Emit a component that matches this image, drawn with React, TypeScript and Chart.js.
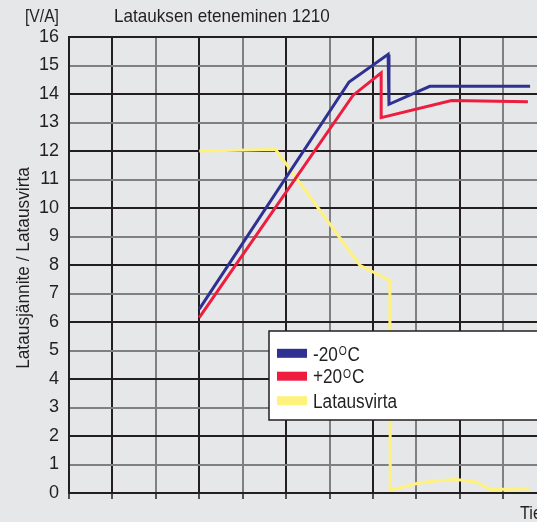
import React, { useEffect, useRef } from 'react';
import { Chart, registerables } from 'chart.js';

Chart.register(...registerables);

// ---- data ----
const seriesLabels = ['-20°C', '+20°C', 'Latausvirta'];
const seriesColors = ['#2e3192', '#ee1d40', '#fff27c'];

const coldX = [3, 6.45, 7.35, 7.37, 8.31, 10.62];
const coldY = [6.45, 14.42, 15.39, 13.64, 14.27, 14.27];

const warmX = [3, 6.54, 7.19, 7.19, 8.81, 10.57];
const warmY = [6.15, 13.95, 14.74, 13.17, 13.77, 13.73];

const currentX = [3, 4.76, 6.7, 7.39, 7.4, 8.01, 8.45, 8.93, 9.39, 9.7, 10.62];
const currentY = [12.0, 12.05, 7.99, 7.46, 0.1, 0.33, 0.43, 0.47, 0.38, 0.12, 0.15];

const yMin = 0;
const yMax = 16;
const xMin = 0;
const xMax = 12;

const titleText = 'Latauksen eteneminen 1210';
const unitText = '[V/A]';
const yAxisTitle = 'Latausjännite / Latausvirta';
const xAxisTitle = 'Tie';

const FONT = '"Liberation Sans", Arial, Helvetica, sans-serif';
const BG = '#e6e7e8';
const DARK = '#231f20';
const GRAY = '#808082';

function toPoints(xs: number[], ys: number[]) {
  return xs.map((x, i) => ({ x, y: ys[i] }));
}

function drawScaled(
  ctx: CanvasRenderingContext2D,
  text: string,
  x: number,
  y: number,
  size: number,
  sx: number,
  align: CanvasTextAlign = 'left'
) {
  ctx.save();
  ctx.font = `${size}px ${FONT}`;
  ctx.fillStyle = DARK;
  ctx.textBaseline = 'alphabetic';
  ctx.textAlign = align;
  ctx.translate(x, y);
  ctx.scale(sx, 1);
  ctx.fillText(text, 0, 0);
  ctx.restore();
}

// draws a label where '°' is rendered as a raised small "O"
function drawLegendLabel(ctx: CanvasRenderingContext2D, text: string, x: number, y: number) {
  const size = 20;
  const sx = 0.86;
  const sup = 12;
  ctx.save();
  ctx.fillStyle = DARK;
  ctx.textBaseline = 'alphabetic';
  ctx.textAlign = 'left';
  ctx.translate(x, y);
  ctx.scale(sx, 1);
  let cx = 0;
  const parts = text.split('°');
  parts.forEach((p, i) => {
    ctx.font = `${size}px ${FONT}`;
    ctx.fillText(p, cx, 0);
    cx += ctx.measureText(p).width;
    if (i < parts.length - 1) {
      ctx.font = `${sup}px ${FONT}`;
      cx += 1;
      ctx.fillText('O', cx, -size * 0.716 + sup * 0.716);
      cx += ctx.measureText('O').width + 1;
    }
  });
  ctx.restore();
}

const decorPlugin = {
  id: 'decor',
  beforeDraw(chart: any) {
    const ctx = chart.ctx as CanvasRenderingContext2D;
    ctx.save();
    ctx.fillStyle = BG;
    ctx.fillRect(0, 0, chart.width, chart.height);
    ctx.restore();
  },
  afterDraw(chart: any) {
    const ctx = chart.ctx as CanvasRenderingContext2D;
    // unit + title
    drawScaled(ctx, unitText, 25, 22, 18, 0.87);
    drawScaled(ctx, titleText, 114, 22, 19, 0.9);
    // y-axis title (rotated)
    ctx.save();
    ctx.font = `18px ${FONT}`;
    ctx.fillStyle = DARK;
    ctx.textAlign = 'center';
    ctx.textBaseline = 'alphabetic';
    ctx.translate(28.5, 268);
    ctx.rotate(-Math.PI / 2);
    ctx.scale(0.96, 1);
    ctx.fillText(yAxisTitle, 0, 0);
    ctx.restore();
    // x-axis title
    drawScaled(ctx, xAxisTitle, 520, 519, 18, 0.9);

    // legend box
    ctx.save();
    ctx.fillStyle = '#ffffff';
    ctx.fillRect(269, 331, 330, 89);
    ctx.strokeStyle = DARK;
    ctx.lineWidth = 1.5;
    ctx.strokeRect(269, 331, 330, 89);
    ctx.restore();
    const rows = [353.3, 376.2, 400.7];
    const ds = chart.data.datasets;
    ds.forEach((d: any, i: number) => {
      ctx.save();
      ctx.fillStyle = d.borderColor;
      ctx.fillRect(277, rows[i] - 4.5, 30, 9);
      ctx.restore();
      drawLegendLabel(ctx, d.label, 313, rows[i] + 7.2);
    });
  },
};

export default function App() {
  const ref = useRef<HTMLCanvasElement | null>(null);

  useEffect(() => {
    if (!ref.current) return;
    const chart = new Chart(ref.current, {
      type: 'line',
      data: {
        datasets: [
          { label: seriesLabels[0], data: toPoints(coldX, coldY), borderColor: seriesColors[0] },
          { label: seriesLabels[1], data: toPoints(warmX, warmY), borderColor: seriesColors[1] },
          { label: seriesLabels[2], data: toPoints(currentX, currentY), borderColor: seriesColors[2] },
        ].map((d) => ({
          ...d,
          borderWidth: 3,
          pointRadius: 0,
          tension: 0,
          fill: false,
          borderJoinStyle: 'miter' as const,
        })),
      },
      options: {
        animation: false,
        responsive: false,
        devicePixelRatio: 1,
        layout: { padding: { top: 37, right: 10, left: 0, bottom: 0 } },
        plugins: {
          legend: { display: false },
          title: { display: false },
          tooltip: { enabled: false },
        },
        scales: {
          x: {
            type: 'linear',
            min: xMin,
            max: xMax,
            ticks: { stepSize: 1, autoSkip: false, callback: () => '' },
            grid: {
              color: (c: any) => (c.tick && Math.round(c.tick.value) % 2 === 1 ? DARK : GRAY),
              lineWidth: 2,
              drawTicks: true,
              tickLength: 6,
              tickColor: DARK,
              tickWidth: 1.5,
            },
            border: { color: DARK, width: 2 },
            afterFit: (s: any) => {
              s.height = 29;
            },
          },
          y: {
            type: 'linear',
            min: yMin,
            max: yMax,
            ticks: {
              stepSize: 1,
              autoSkip: false,
              padding: 10,
              color: DARK,
              font: { size: 18, family: FONT },
            },
            grid: {
              color: (c: any) => (c.tick && Math.round(c.tick.value) % 2 === 0 ? DARK : GRAY),
              lineWidth: 2,
              drawTicks: false,
            },
            border: { color: DARK, width: 2 },
            afterFit: (s: any) => {
              s.width = 69;
            },
          },
        },
      } as any,
      plugins: [decorPlugin],
    });
    return () => chart.destroy();
  }, []);

  return (
    <div
      style={{
        position: 'fixed',
        left: 0,
        top: 0,
        width: 537,
        height: 522,
        overflow: 'hidden',
        background: BG,
      }}
    >
      <canvas ref={ref} width={600} height={522} style={{ display: 'block', width: 600, height: 522 }} />
    </div>
  );
}
